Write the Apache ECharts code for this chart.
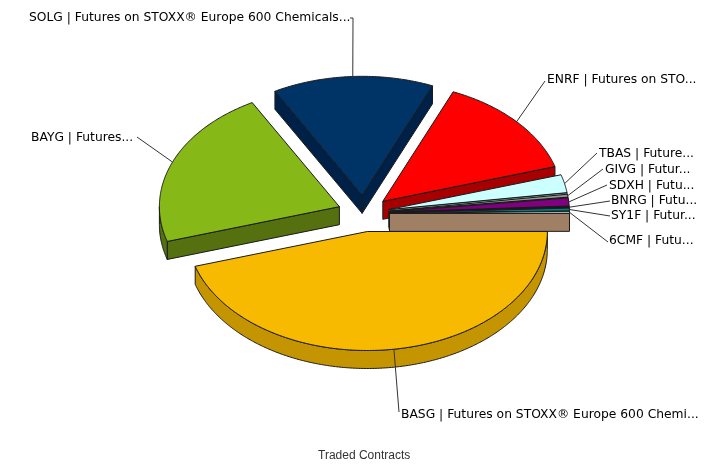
<!DOCTYPE html>
<html>
<head>
<meta charset="utf-8">
<title>Traded Contracts</title>
<style>
  html, body { margin: 0; padding: 0; background: #fff; }
  #pieChart { width: 723px; height: 464px; }
</style>
</head>
<body>
<div id="pieChart"></div>
<script src="https://cdn.jsdelivr.net/npm/echarts@6/dist/echarts.min.js"></script>
<script>
// share of traded contracts per underlying, in percent, clockwise from 3 o'clock
const labels = [
  'BASG | Futures on STOXX® Europe 600 Chemi...',
  'BAYG | Futures...',
  'SOLG | Futures on STOXX® Europe 600 Chemicals...',
  'ENRF | Futures on STO...',
  'TBAS | Future...',
  'GIVG | Futur...',
  'SDXH | Futu...',
  'BNRG | Futu...',
  'SY1F | Futur...',
  '6CMF | Futu...'
]
const shares = [45.28, 21.67, 14.44, 13.89, 2.45, 0.39, 1.08, 0.14, 0.39, 0.27]

const topColors = ['#f7ba00', '#86b817', '#003366', '#ff0000', '#ccffff', '#969696', '#800080', '#101030', '#008080', '#c8c8c8']
const sideColors = ['#c49500', '#55710f', '#002147', '#a80000', '#88aaaa', '#646464', '#550055', '#0a0a20', '#005555', '#a08064']

// where each leader line bends and where its text starts
const labelElbows = [[399, 412], [137, 137], [353, 18], [545, 81], [597, 153], [603, 169], [607, 185], [610, 201], [610, 216], [608, 242]]
const labelPos = [[401, 415], [31, 138], [29, 18], [547, 80], [599, 154], [605, 170], [609, 186], [611, 201], [611, 216], [609, 241]]

// pie projection
const cx = 363.5
const cy = 213.5
const rx = 180
const ry = 119
const depth = 18
const explodeX = 26
const explodeY = 18.2
const edgeColor = '#1a1a1a'

const total = shares.reduce((a, b) => a + b, 0)
const rad = (d) => d * Math.PI / 180

function arcPoints(ox, oy, from, to, dy) {
  const pts = []
  const n = Math.max(2, Math.ceil((to - from) * 2))
  for (let i = 0; i <= n; i++) {
    const t = rad(from + (to - from) * i / n)
    pts.push([ox + rx * Math.cos(t), oy + ry * Math.sin(t) + dy])
  }
  return pts
}

function face(ox, oy, deg) {
  const ex = ox + rx * Math.cos(rad(deg))
  const ey = oy + ry * Math.sin(rad(deg))
  return [[ox, oy], [ex, ey], [ex, ey + depth], [ox, oy + depth]]
}

function renderSlice(params, api) {
  const i = api.value(0)
  const from = shares.slice(0, i).reduce((a, b) => a + b, 0) / total * 360
  const to = from + shares[i] / total * 360
  const mid = rad((from + to) / 2)
  const ox = cx + explodeX * Math.cos(mid)
  const oy = cy + explodeY * Math.sin(mid)
  // the big front slice goes on top of everything else
  const z = (i === 0 ? 20 : i) * 10
  const children = []
  const poly = (points, fill, order) => children.push({
    type: 'polygon',
    z2: z + order,
    shape: { points },
    style: { fill, stroke: edgeColor, lineWidth: 1 }
  })

  if (from > 90 && from < 270) poly(face(ox, oy, from), sideColors[i], 0)
  if (to > 270 || to < 90) poly(face(ox, oy, to), sideColors[i], 0)
  const wallTo = Math.min(to, 180)
  if (from < wallTo) {
    const upper = arcPoints(ox, oy, from, wallTo, 0)
    const lower = arcPoints(ox, oy, from, wallTo, depth).reverse()
    poly(upper.concat(lower), sideColors[i], 1)
  }
  poly([[ox, oy]].concat(arcPoints(ox, oy, from, to, 0)), topColors[i], 2)

  const start = [ox + rx * Math.cos(mid), oy + ry * Math.sin(mid)]
  children.push({
    type: 'polyline',
    z2: 300,
    shape: { points: [start, labelElbows[i]] },
    style: { fill: 'none', stroke: '#333', lineWidth: 1 }
  })
  if (i === 2) {
    children.push({
      type: 'polyline',
      z2: 300,
      shape: { points: [labelElbows[i], [labelElbows[i][0] - 3, labelElbows[i][1]]] },
      style: { fill: 'none', stroke: '#333', lineWidth: 1 }
    })
  }
  children.push({
    type: 'text',
    z2: 301,
    x: labelPos[i][0],
    y: labelPos[i][1],
    style: {
      text: labels[i],
      fill: '#000',
      font: '12.3px "DejaVu Sans"',
      align: 'left',
      verticalAlign: 'middle'
    }
  })
  return { type: 'group', children }
}

const chart = echarts.init(document.getElementById('pieChart'))
chart.setOption({
  animation: false,
  backgroundColor: '#fff',
  title: {
    text: 'Traded Contracts',
    left: 318,
    top: 450,
    padding: 0,
    textStyle: { fontFamily: 'Liberation Sans', fontSize: 12, fontWeight: 'normal', color: '#333' }
  },
  series: [{
    type: 'custom',
    coordinateSystem: 'none',
    renderItem: renderSlice,
    silent: true,
    data: shares.map((v, i) => [i, v, labels[i]])
  }]
})
</script>
</body>
</html>
